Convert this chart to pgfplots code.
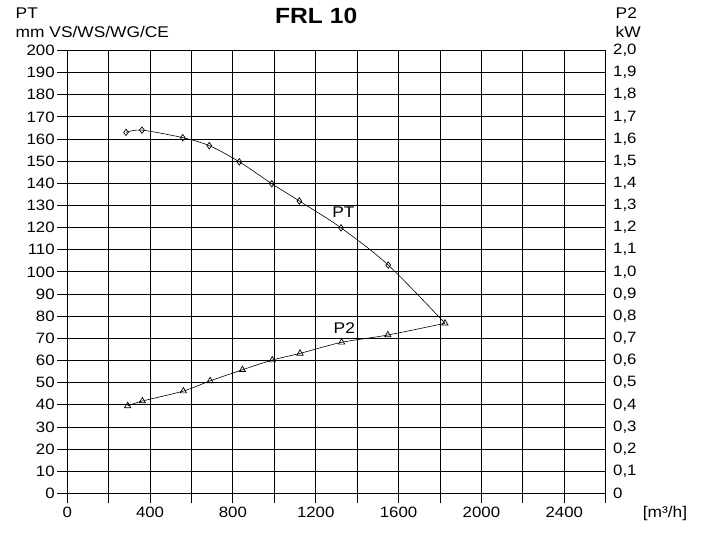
\documentclass[border=0pt]{standalone}
\usepackage{fontspec}
\setmainfont{Liberation Sans}[FakeStretch=1.12]
\usepackage{pgfplots}
\pgfplotsset{compat=1.18}
\pgfplotsset{
  base/.style={
    width=538.5pt, height=443pt, scale only axis,
    xmin=0, xmax=2600,
    at={(0pt,0pt)}, anchor=south west,
    /pgf/number format/assume math mode=true,
    tick label style={font=\fontsize{15}{17}\selectfont},
    clip=false,
  }
}
\begin{document}
\begin{tikzpicture}[font=\fontsize{15.5}{18}\selectfont]
\begin{axis}[base,
  ymin=0, ymax=200,
  xtick={0,200,400,600,800,1000,1200,1400,1600,1800,2000,2200,2400,2600},
  xticklabels={0,,400,,800,,1200,,1600,,2000,,2400,},
  ytick={0,10,20,30,40,50,60,70,80,90,100,110,120,130,140,150,160,170,180,190,200},
  xtick pos=bottom, ytick pos=left,
  tick align=outside, major tick length=10pt,
  grid=major, grid style={black, line width=0.8pt},
  axis line style={black, line width=0.9pt},
  tick style={black, line width=0.8pt},
  yticklabel style={xshift=1pt},
]
\addplot[black, line width=0.6pt, smooth, tension=0.5, mark=diamond, mark size=3.2pt,
  mark options={solid, fill=white, line width=0.7pt}, mark indices={1,2,3,4,5,6,7,8,9}]
  coordinates {(284,163) (361,164) (558,160.6) (686,157) (831,149.7) (988,139.8)
               (1121,132) (1322,119.9) (1550,103.1) (1824,76.8)};
\node at (axis cs:1334,127) {PT};
\node at (axis cs:1338,74.5) {P2};
\end{axis}
\begin{axis}[base,
  ymin=0, ymax=2,
  axis x line=none, axis y line*=right,
  axis line style={black, line width=0.9pt},
  ytick={0,0.1,0.2,0.3,0.4,0.5,0.6,0.7,0.8,0.9,1.0,1.1,1.2,1.3,1.4,1.5,1.6,1.7,1.8,1.9,2.0},
  yticklabels={0,{0,1},{0,2},{0,3},{0,4},{0,5},{0,6},{0,7},{0,8},{0,9},{1,0},{1,1},{1,2},{1,3},{1,4},{1,5},{1,6},{1,7},{1,8},{1,9},{2,0}},
  major tick length=0pt,
  yticklabel style={xshift=4pt},
]
\addplot[black, line width=0.6pt, smooth, tension=0.5, mark=triangle, mark size=3.6pt,
  mark options={solid, fill=white, line width=0.7pt}]
  coordinates {(292,0.395) (363,0.417) (561,0.462) (690,0.508) (846,0.558) (990,0.602)
               (1124,0.632) (1325,0.682) (1548,0.715) (1824,0.768)};
\end{axis}
\node[anchor=west] at (-55pt,480.4pt) {PT};
\node[anchor=west] at (-55pt,461.4pt) {mm VS/WS/WG/CE};
\node at (249pt,477pt) {\fontsize{22}{25}\selectfont\bfseries FRL 10};
\node[anchor=west] at (545pt,480.4pt) {P2};
\node[anchor=west] at (545pt,461.4pt) {kW};
\node at (597.8pt,-19.6pt) {[m³/h]};
\pgfresetboundingbox
\path[use as bounding box] (-67.2pt,-41.6pt) rectangle (645.8pt,493.4pt);
\end{tikzpicture}
\end{document}
